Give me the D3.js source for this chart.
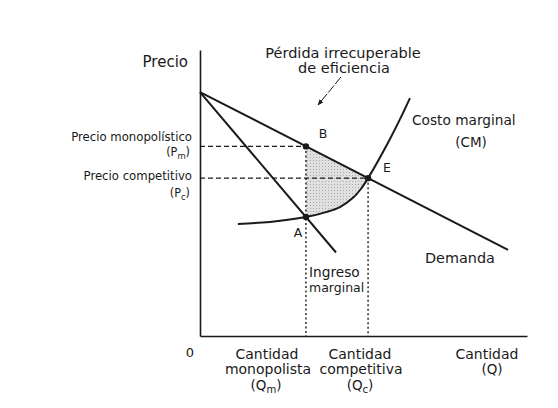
<!DOCTYPE html>
<html><head><meta charset="utf-8">
<script src="https://cdn.jsdelivr.net/npm/d3@7/dist/d3.min.js"></script>
<style>
body{margin:0;background:#fff;}
text{font-family:"DejaVu Sans",Arial,sans-serif;fill:#1a1a1a;}
text.cond{font-family:"DejaVu Sans Condensed","Liberation Sans Narrow","DejaVu Sans",sans-serif;font-stretch:condensed;}
</style></head>
<body><svg id="c" width="558" height="408"></svg>
<script>
// ---- data (quantity, price in chart units) ----
const demandQ = [0, 94.2];
const demandP = [85.3, 30.1];
const mrQ = [0, 41.6];
const mrP = [85.3, 29.2];
const mcQ = [11.6, 21.4, 32.4, 38.8, 42.8, 46.8, 49.2, 51.4, 58.1, 61.2, 64.2];
const mcP = [39.2, 39.9, 41.6, 43.4, 45.1, 48.3, 51.4, 55.2, 68.9, 75.9, 83.2];
const pointNames = ["B", "E", "A"];
const pointQ = [32.4, 51.4, 32.4];
const pointP = [66.3, 55.2, 41.6];
const Qm = 32.4, Qc = 51.4, Pm = 66.3, Pc = 55.2;

const svg = d3.select("#c");
const x = d3.scaleLinear().domain([0, 100]).range([200, 527]);
const y = d3.scaleLinear().domain([0, 100]).range([336, 50]);
const ink = "#1a1a1a";

const zip = (a, b) => a.map((v, i) => [v, b[i]]);
const demand = zip(demandQ, demandP), mr = zip(mrQ, mrP), mc = zip(mcQ, mcP);
const line = d3.line().x(d => x(d[0])).y(d => y(d[1]));
const mcCurve = d3.curveCatmullRom.alpha(0.5);
const mcLine = d3.line().x(d => x(d[0])).y(d => y(d[1])).curve(mcCurve);

// dotted texture pattern
const defs = svg.append("defs");
const pat = defs.append("pattern").attr("id", "dots").attr("width", 3).attr("height", 3).attr("patternUnits", "userSpaceOnUse");
pat.append("rect").attr("width", 3).attr("height", 3).attr("fill", "#e0e0e0");
pat.append("rect").attr("x", 1).attr("y", 1).attr("width", 1).attr("height", 1).attr("fill", "#aaaaaa");
const dAt = q => demandP[0] + (demandP[1] - demandP[0]) * (q - demandQ[0]) / (demandQ[1] - demandQ[0]);
defs.append("clipPath").attr("id", "dwl").append("path")
  .attr("d", line([[Qm, dAt(Qm)], [Qc, dAt(Qc)], [Qc, 0], [Qm, 0]]) + "Z");
svg.append("path")
  .datum(mc)
  .attr("clip-path", "url(#dwl)")
  .attr("fill", "url(#dots)")
  .attr("d", d3.area().x(d => x(d[0])).y0(y(100)).y1(d => y(d[1])).curve(mcCurve));

// axes
svg.append("g").attr("transform", `translate(0,${y(0)})`)
  .call(d3.axisBottom(x).tickValues([]).tickSizeOuter(0))
  .call(g => g.select(".domain").attr("stroke", ink).attr("stroke-width", 1.6));
svg.append("g").attr("transform", `translate(${x(0)},0)`)
  .call(d3.axisLeft(y).tickValues([]).tickSizeOuter(0))
  .call(g => g.select(".domain").attr("stroke", ink).attr("stroke-width", 1.6));

// dashed guides
const dash = "5,3";
svg.append("line").attr("x1", x(0)).attr("x2", x(Qm)).attr("y1", y(Pm)).attr("y2", y(Pm))
  .attr("stroke", ink).attr("stroke-width", 1.3).attr("stroke-dasharray", dash);
svg.append("line").attr("x1", x(0)).attr("x2", x(Qc)).attr("y1", y(Pc)).attr("y2", y(Pc))
  .attr("stroke", ink).attr("stroke-width", 1.3).attr("stroke-dasharray", dash);
svg.append("line").attr("x1", x(Qm)).attr("x2", x(Qm)).attr("y1", y(Pm)).attr("y2", y(0))
  .attr("stroke", ink).attr("stroke-width", 1.4).attr("stroke-dasharray", "2,2.5");
svg.append("line").attr("x1", x(Qc)).attr("x2", x(Qc)).attr("y1", y(Pc)).attr("y2", y(0))
  .attr("stroke", ink).attr("stroke-width", 1.4).attr("stroke-dasharray", "2,2.5");

// curves
svg.append("path").attr("d", line(demand)).attr("fill", "none").attr("stroke", ink).attr("stroke-width", 2);
svg.append("path").attr("d", line(mr)).attr("fill", "none").attr("stroke", ink).attr("stroke-width", 2);
svg.append("path").attr("d", mcLine(mc)).attr("fill", "none").attr("stroke", ink).attr("stroke-width", 2);

// points
svg.selectAll("circle.pt").data(pointQ).join("circle").attr("class", "pt")
  .attr("cx", d => x(d)).attr("cy", (d, i) => y(pointP[i])).attr("r", 3.2).attr("fill", ink);

// arrow
defs.append("marker").attr("id", "ah").attr("viewBox", "0 0 10 10").attr("refX", 9).attr("refY", 5)
  .attr("markerWidth", 6).attr("markerHeight", 6).attr("orient", "auto")
  .append("path").attr("d", "M0,1 L10,5 L0,9 Z").attr("fill", ink);
svg.append("line").attr("x1", 341).attr("y1", 77).attr("x2", 318).attr("y2", 105)
  .attr("stroke", ink).attr("stroke-width", 1).attr("stroke-dasharray", "9,2").attr("marker-end", "url(#ah)");

// text
function txt(s, tx, ty, size, anchor, cls) {
  return svg.append("text").attr("x", tx).attr("y", ty).attr("font-size", size)
    .attr("class", cls || null).attr("text-anchor", anchor || "start").text(s);
}
function sub(main, s, tx, ty, size, anchor, cls) {
  const t = svg.append("text").attr("x", tx).attr("y", ty).attr("font-size", size)
    .attr("class", cls || null).attr("text-anchor", anchor || "start");
  t.append("tspan").text(main[0]);
  t.append("tspan").attr("dy", 3).attr("font-size", size * 0.75).text(s);
  t.append("tspan").attr("dy", -3).text(main[1]);
  return t;
}
txt("Precio", 188, 67, 15, "end");
txt("Pérdida irrecuperable", 343, 58, 14.5, "middle");
txt("de eficiencia", 344, 73, 14.5, "middle");
txt("Costo marginal", 412, 125, 13.7, "start");
txt("(CM)", 471, 147, 13.5, "middle");
txt(pointNames[0], 323, 138, 12.5, "middle");
txt(pointNames[1], 387, 172, 12.5, "middle");
txt(pointNames[2], 298, 237, 12.5, "middle");
txt("Demanda", 425, 263, 14.4, "start");
txt("Ingreso", 309, 277, 13.7, "start");
txt("marginal", 309, 292, 12.5, "start");
txt("0", 190, 357, 13, "middle");
txt("Precio monopolístico", 192, 141, 13, "end", "cond");
sub(["(P", ")"], "m", 190, 156, 12.5, "end", "cond");
txt("Precio competitivo", 192, 180, 13, "end", "cond");
sub(["(P", ")"], "c", 190, 197, 12.5, "end", "cond");
txt("Cantidad", 267, 359, 14, "middle");
txt("monopolista", 268, 374, 14, "middle");
sub(["(Q", ")"], "m", 266, 390, 13.5, "middle");
txt("Cantidad", 360, 359, 14, "middle");
txt("competitiva", 361, 374, 14, "middle");
sub(["(Q", ")"], "c", 360, 390, 13.5, "middle");
txt("Cantidad", 487, 359, 14, "middle");
txt("(Q)", 492, 374, 13.5, "middle");
</script></body></html>
